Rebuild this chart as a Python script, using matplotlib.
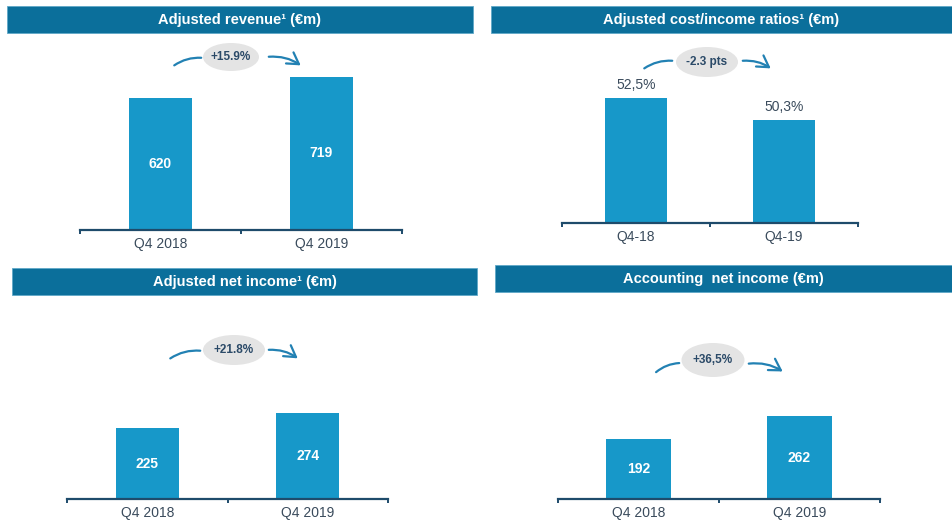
import matplotlib
matplotlib.use("Agg")
import matplotlib.pyplot as plt
from matplotlib.patches import Rectangle, Ellipse, FancyArrowPatch

plt.rcParams['font.family'] = ['Liberation Sans', 'DejaVu Sans']

# ---------------- data ----------------
titles = ["Adjusted revenue\u00b9 (\u20acm)",
          "Adjusted cost/income ratios\u00b9 (\u20acm)",
          "Adjusted net income\u00b9 (\u20acm)",
          "Accounting  net income (\u20acm)"]
cats_a = ["Q4 2018", "Q4 2019"]
cats_b = ["Q4-18", "Q4-19"]
revenue = [620, 719]
cost_income = [52.5, 50.3]
cost_income_labels = ["52,5%", "50,3%"]
adj_net_income = [225, 274]
acc_net_income = [192, 262]
changes = ["+15.9%", "-2.3 pts", "+21.8%", "+36,5%"]

# ---------------- style ----------------
W, H = 952, 522
TITLE_BG = "#0B6F9B"
BAR = "#1798C9"
AXIS = "#1E4B6B"
TXT = "#3A4B5C"
ELL = "#E4E4E4"
ARROW = "#2281B3"

fig = plt.figure(figsize=(W / 100, H / 100), dpi=100)
fig.patch.set_facecolor("white")

ov = fig.add_axes([0, 0, 1, 1])
ov.set_xlim(0, W)
ov.set_ylim(H, 0)
ov.axis("off")

# title bars: (x0, x1, y0, y1) in pixels
title_boxes = [(7, 473, 6, 33), (491, 952, 6, 33), (12, 477, 268, 295), (495, 952, 265, 292)]
for (x0, x1, y0, y1), t in zip(title_boxes, titles):
    ov.add_patch(Rectangle((x0, y0), x1 - x0, y1 - y0, facecolor=TITLE_BG,
                           edgecolor="#5FA8C8", linewidth=0.6))
    ov.text((x0 + x1) / 2, (y0 + y1) / 2 + 0.5, t, color="white", fontsize=10.5,
            fontweight="bold", ha="center", va="center")

# change bubbles: ellipse centre, size, left arc, right arrow
bubbles = [
    ((231, 57), (56, 28), ((172, 67), (204, 58)), ((266, 57), (303, 67))),
    ((707, 62), (62, 30), ((642, 70), (675, 61)), ((740, 61), (773, 70))),
    ((234, 350), (62, 30), ((168, 360), (203, 351)), ((266, 350), (300, 360))),
    ((713, 360), (63, 34), ((654, 374), (682, 363)), ((746, 364), (785, 373))),
]
for ((cx, cy), (ew, eh), (la, lb), (ra, rb)), txt in zip(bubbles, changes):
    ov.add_patch(Ellipse((cx, cy), ew, eh, facecolor=ELL, edgecolor="none"))
    ov.text(cx, cy, txt, color="#2B4A68", fontsize=8.5, fontweight="bold",
            ha="center", va="center")
    ov.add_patch(FancyArrowPatch(la, lb, connectionstyle="arc3,rad=-0.2",
                                 arrowstyle="-", color=ARROW, linewidth=1.6))
    ov.add_patch(FancyArrowPatch(ra, rb, connectionstyle="arc3,rad=-0.2",
                                 arrowstyle="->,head_length=5,head_width=3",
                                 color=ARROW, linewidth=1.6, mutation_scale=1.6))


def make_axes(x0, x1, base_y, top_y):
    return fig.add_axes([x0 / W, 1 - base_y / H, (x1 - x0) / W, (base_y - top_y) / H])


def style(ax, cats):
    ax.set_facecolor("none")
    for s in ("top", "left", "right"):
        ax.spines[s].set_visible(False)
    ax.spines["bottom"].set_color(AXIS)
    ax.spines["bottom"].set_linewidth(1.6)
    ax.set_yticks([])
    ax.set_xlim(-0.5, 1.5)
    ax.set_xticks([0, 1])
    ax.set_xticklabels(cats, fontsize=10, color=TXT)
    ax.tick_params(axis="x", which="major", length=0, pad=5)
    ax.set_xticks([-0.5, 0.5, 1.5], minor=True)
    ax.tick_params(axis="x", which="minor", length=3, width=1.4, color=AXIS, direction="out")


x = [0, 1]

# panel 1: revenue
ax1 = make_axes(80, 402, 230, 230 - 800 * 0.2128)
ax1.bar(x, revenue, width=0.39, color=BAR)
ax1.set_ylim(0, 800)
style(ax1, cats_a)
for xi, v in zip(x, revenue):
    ax1.text(xi, v / 2, f"{v}", color="white", fontsize=10, fontweight="bold",
             ha="center", va="center")

# panel 2: cost/income ratio
ax2 = make_axes(562, 858, 223, 223 - 15 * 10)
ax2.bar(x, cost_income, width=0.425, color=BAR)
ax2.set_ylim(40, 55)
style(ax2, cats_b)
for xi, v, lab in zip(x, cost_income, cost_income_labels):
    ax2.annotate(lab, (xi, v), xytext=(0, 4), textcoords="offset points",
                 color=TXT, fontsize=10, ha="center", va="bottom")

# panel 3: adjusted net income
ax3 = make_axes(67, 388, 499, 499 - 300 * 0.315)
ax3.bar(x, adj_net_income, width=0.39, color=BAR)
ax3.set_ylim(0, 300)
style(ax3, cats_a)
for xi, v in zip(x, adj_net_income):
    ax3.text(xi, v / 2, f"{v}", color="white", fontsize=10, fontweight="bold",
             ha="center", va="center")

# panel 4: accounting net income
ax4 = make_axes(558, 880, 499, 499 - 300 * 0.315)
ax4.bar(x, acc_net_income, width=0.4, color=BAR)
ax4.set_ylim(0, 300)
style(ax4, cats_a)
for xi, v in zip(x, acc_net_income):
    ax4.text(xi, v / 2, f"{v}", color="white", fontsize=10, fontweight="bold",
             ha="center", va="center")

fig.savefig("out.png", dpi=100, facecolor="white")
